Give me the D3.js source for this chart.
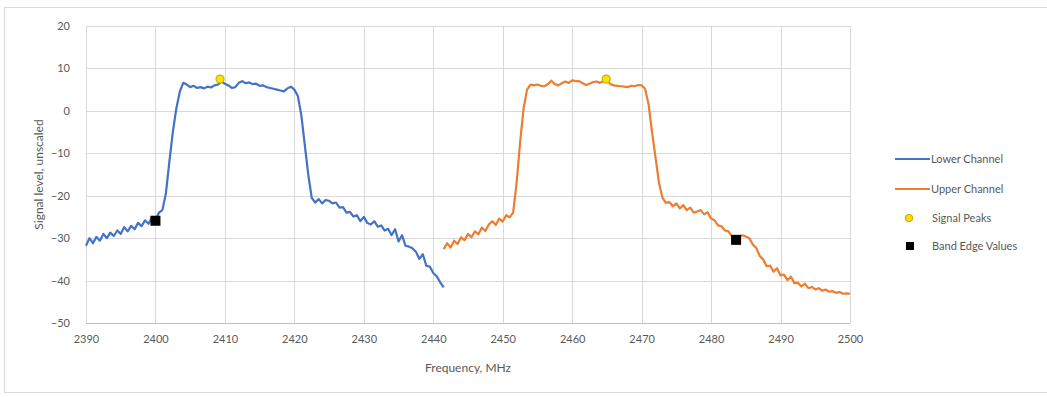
<!DOCTYPE html>
<html>
<head>
<meta charset="utf-8">
<script src="https://cdn.jsdelivr.net/npm/d3@7"></script>
<style>
  html, body { margin: 0; padding: 0; background: #fff; }
  svg { display: block; }
  text { font-family: Lato, "Open Sans", "Liberation Sans", sans-serif; fill: #595959; }
</style>
</head>
<body>
<svg id="chart" width="1047" height="397"></svg>
<script>
// ---------- DATA ----------
const xTicks = [2390, 2400, 2410, 2420, 2430, 2440, 2450, 2460, 2470, 2480, 2490, 2500];
const yTicks = [20, 10, 0, -10, -20, -30, -40, -50];

const lowerChannel = [
  [2390.0,-31.8],[2390.5,-30.0],[2391.0,-31.2],[2391.5,-29.7],[2392.0,-30.6],[2392.5,-29.0],
  [2393.0,-30.0],[2393.5,-28.7],[2394.0,-29.5],[2394.5,-28.2],[2395.0,-29.0],[2395.5,-27.4],
  [2396.0,-28.4],[2396.5,-27.1],[2397.0,-27.9],[2397.5,-26.4],[2398.0,-27.2],[2398.5,-25.8],
  [2399.0,-26.6],[2399.5,-25.1],[2400.0,-25.7],[2400.5,-24.0],[2401.0,-23.4],[2401.5,-19.5],
  [2402.0,-12.0],[2402.5,-5.0],[2403.0,0.5],[2403.5,4.5],[2404.0,6.6],[2404.5,6.2],
  [2405.0,5.6],[2405.5,5.9],[2406.0,5.4],[2406.5,5.6],[2407.0,5.3],[2407.5,5.7],
  [2408.0,5.5],[2408.5,6.0],[2409.0,6.2],[2409.5,6.9],[2410.0,6.4],[2410.5,6.0],
  [2411.0,5.4],[2411.5,5.6],[2412.0,6.6],[2412.5,7.0],[2413.0,6.5],[2413.5,6.7],
  [2414.0,6.3],[2414.5,6.4],[2415.0,5.9],[2415.5,6.0],[2416.0,5.6],[2416.5,5.4],
  [2417.0,5.2],[2417.5,5.0],[2418.0,4.8],[2418.5,4.6],[2419.0,5.3],[2419.5,5.7],
  [2420.0,5.0],[2420.5,3.5],[2421.0,-1.0],[2421.5,-8.0],[2422.0,-15.0],[2422.5,-20.5],
  [2423.0,-21.6],[2423.5,-20.8],[2424.0,-21.8],[2424.5,-21.0],[2425.0,-21.2],[2425.5,-21.8],
  [2426.0,-21.6],[2426.5,-22.8],[2427.0,-22.7],[2427.5,-24.0],[2428.0,-23.8],[2428.5,-24.9],
  [2429.0,-24.6],[2429.5,-26.0],[2430.0,-25.0],[2430.5,-26.4],[2431.0,-26.8],[2431.5,-26.0],
  [2432.0,-27.3],[2432.5,-27.0],[2433.0,-28.2],[2433.5,-27.8],[2434.0,-29.3],[2434.5,-27.9],
  [2435.0,-30.8],[2435.5,-29.3],[2436.0,-31.8],[2436.5,-32.0],[2437.0,-32.4],[2437.5,-33.2],
  [2438.0,-34.9],[2438.5,-33.8],[2439.0,-36.5],[2439.5,-36.7],[2440.0,-38.2],[2440.5,-39.0],
  [2441.0,-40.4],[2441.5,-41.6]
];

const upperChannel = [
  [2441.5,-32.6],[2442.0,-31.2],[2442.5,-32.2],[2443.0,-30.6],[2443.5,-31.4],[2444.0,-29.8],
  [2444.5,-30.5],[2445.0,-29.0],[2445.5,-29.8],[2446.0,-28.4],[2446.5,-29.1],[2447.0,-27.5],
  [2447.5,-28.3],[2448.0,-26.8],[2448.5,-26.0],[2449.0,-26.9],[2449.5,-25.4],[2450.0,-26.1],
  [2450.5,-24.6],[2451.0,-25.1],[2451.5,-24.0],[2452.0,-17.0],[2452.5,-7.5],[2453.0,0.5],
  [2453.5,5.0],[2454.0,6.2],[2454.5,6.0],[2455.0,6.2],[2455.5,5.9],[2456.0,5.8],
  [2456.5,6.3],[2457.0,7.1],[2457.5,6.3],[2458.0,6.0],[2458.5,6.5],[2459.0,6.9],
  [2459.5,6.6],[2460.0,7.2],[2460.5,7.0],[2461.0,7.0],[2461.5,6.5],[2462.0,6.1],
  [2462.5,6.4],[2463.0,6.8],[2463.5,6.9],[2464.0,6.6],[2464.5,7.0],[2465.0,7.2],
  [2465.5,6.3],[2466.0,6.0],[2466.5,5.9],[2467.0,5.8],[2467.5,5.7],[2468.0,5.6],
  [2468.5,5.9],[2469.0,5.8],[2469.5,6.1],[2470.0,6.0],[2470.5,5.2],[2471.0,1.5],
  [2471.5,-5.0],[2472.0,-11.0],[2472.5,-17.0],[2473.0,-20.5],[2473.5,-21.7],[2474.0,-21.5],
  [2474.5,-22.5],[2475.0,-21.8],[2475.5,-23.0],[2476.0,-22.2],[2476.5,-23.4],[2477.0,-22.8],
  [2477.5,-24.0],[2478.0,-23.7],[2478.5,-23.4],[2479.0,-24.4],[2479.5,-23.9],[2480.0,-25.4],
  [2480.5,-25.8],[2481.0,-27.0],[2481.5,-27.2],[2482.0,-28.2],[2482.5,-28.4],[2483.0,-29.6],
  [2483.5,-30.2],[2484.0,-29.8],[2484.5,-29.3],[2485.0,-29.6],[2485.5,-30.0],[2486.0,-31.5],
  [2486.5,-32.3],[2487.0,-34.2],[2487.5,-35.0],[2488.0,-36.6],[2488.5,-36.5],[2489.0,-37.9],
  [2489.5,-37.1],[2490.0,-38.8],[2490.5,-38.6],[2491.0,-39.9],[2491.5,-39.1],[2492.0,-40.6],
  [2492.5,-40.5],[2493.0,-41.4],[2493.5,-40.7],[2494.0,-41.8],[2494.5,-41.5],[2495.0,-42.1],
  [2495.5,-41.8],[2496.0,-42.4],[2496.5,-42.1],[2497.0,-42.6],[2497.5,-42.5],[2498.0,-42.9],
  [2498.5,-42.7],[2499.0,-43.1],[2499.5,-43.0],[2500.0,-43.1]
];

const signalPeaks = [[2409.3, 7.5], [2464.9, 7.5]];
const bandEdges = [[2400.0, -25.9], [2483.6, -30.4]];

const legendLabels = ["Lower Channel", "Upper Channel", "Signal Peaks", "Band Edge Values"];

// ---------- LAYOUT ----------
const svg = d3.select("#chart");
const plot = { left: 86, right: 850, top: 26, bottom: 323 };

const x = d3.scaleLinear().domain([2390, 2500]).range([plot.left, plot.right]);
const y = d3.scaleLinear().domain([-50, 20]).range([plot.bottom, plot.top]);

// chart border
svg.append("rect").attr("x", 4.5).attr("y", 7.5).attr("width", 1050).attr("height", 385)
  .attr("fill", "#fff").attr("stroke", "#D9D9D9").attr("stroke-width", 1);

// gridlines
svg.append("g").selectAll("line").data(yTicks).join("line")
  .attr("x1", plot.left).attr("x2", plot.right)
  .attr("y1", d => Math.round(y(d)) + 0.5).attr("y2", d => Math.round(y(d)) + 0.5)
  .attr("stroke", d => d === -50 ? "#BFBFBF" : "#D9D9D9").attr("stroke-width", 1);
svg.append("g").selectAll("line").data(xTicks).join("line")
  .attr("y1", plot.top).attr("y2", plot.bottom)
  .attr("x1", d => Math.round(x(d)) + 0.5).attr("x2", d => Math.round(x(d)) + 0.5)
  .attr("stroke", "#D9D9D9").attr("stroke-width", 1);

// axes (labels only)
const xAxis = d3.axisBottom(x).tickValues(xTicks).tickSize(0).tickPadding(0).tickFormat(d3.format("d"));
const gx = svg.append("g").attr("transform", `translate(0,${plot.bottom + 12})`).call(xAxis);
gx.select(".domain").remove();
gx.selectAll("text").attr("font-size", 11).attr("fill", "#595959")
  .style("font-family", "Lato, 'Open Sans', sans-serif");

const yAxis = d3.axisLeft(y).tickValues(yTicks).tickSize(0).tickPadding(0).tickFormat(d3.format("d"));
const gy = svg.append("g").attr("transform", `translate(${plot.left - 16},0)`).call(yAxis);
gy.select(".domain").remove();
gy.selectAll("text").attr("font-size", 11).attr("fill", "#595959")
  .style("font-family", "Lato, 'Open Sans', sans-serif");

// axis titles
svg.append("text").attr("x", (plot.left + plot.right) / 2).attr("y", 372)
  .attr("text-anchor", "middle").attr("font-size", 12).text("Frequency, MHz");
svg.append("text").attr("transform", `translate(43,${(plot.top + plot.bottom) / 2}) rotate(-90)`)
  .attr("text-anchor", "middle").attr("font-size", 12).text("Signal level, unscaled");

// lines
const line = d3.line().x(d => x(d[0])).y(d => y(d[1]));
svg.append("path").datum(lowerChannel).attr("d", line)
  .attr("fill", "none").attr("stroke", "#4472C4").attr("stroke-width", 2.2).attr("stroke-linejoin", "round");
svg.append("path").datum(upperChannel).attr("d", line)
  .attr("fill", "none").attr("stroke", "#ED7D31").attr("stroke-width", 2.2).attr("stroke-linejoin", "round");

// markers
svg.append("g").selectAll("circle").data(signalPeaks).join("circle")
  .attr("cx", d => x(d[0])).attr("cy", d => y(d[1])).attr("r", 4)
  .attr("fill", "#FFE000").attr("stroke", "#C9B000").attr("stroke-width", 1.2);
svg.append("g").selectAll("rect").data(bandEdges).join("rect")
  .attr("x", d => x(d[0]) - 5).attr("y", d => y(d[1]) - 5).attr("width", 10).attr("height", 10)
  .attr("fill", "#000");

// legend
const lg = svg.append("g");
const legendY = [159, 189, 218, 246];
lg.append("line").attr("x1", 895).attr("x2", 930).attr("y1", legendY[0]).attr("y2", legendY[0])
  .attr("stroke", "#4472C4").attr("stroke-width", 2);
lg.append("line").attr("x1", 895).attr("x2", 930).attr("y1", legendY[1]).attr("y2", legendY[1])
  .attr("stroke", "#ED7D31").attr("stroke-width", 2);
lg.append("circle").attr("cx", 909).attr("cy", legendY[2]).attr("r", 3.5)
  .attr("fill", "#FFE000").attr("stroke", "#C9B000").attr("stroke-width", 1.2);
lg.append("rect").attr("x", 906).attr("y", legendY[3] - 4).attr("width", 8).attr("height", 8).attr("fill", "#000");
lg.selectAll("text").data(legendLabels).join("text")
  .attr("x", (d, i) => i < 2 ? 931 : 932).attr("y", (d, i) => legendY[i] + 4)
  .attr("font-size", 11).text(d => d);
</script>
</body>
</html>
